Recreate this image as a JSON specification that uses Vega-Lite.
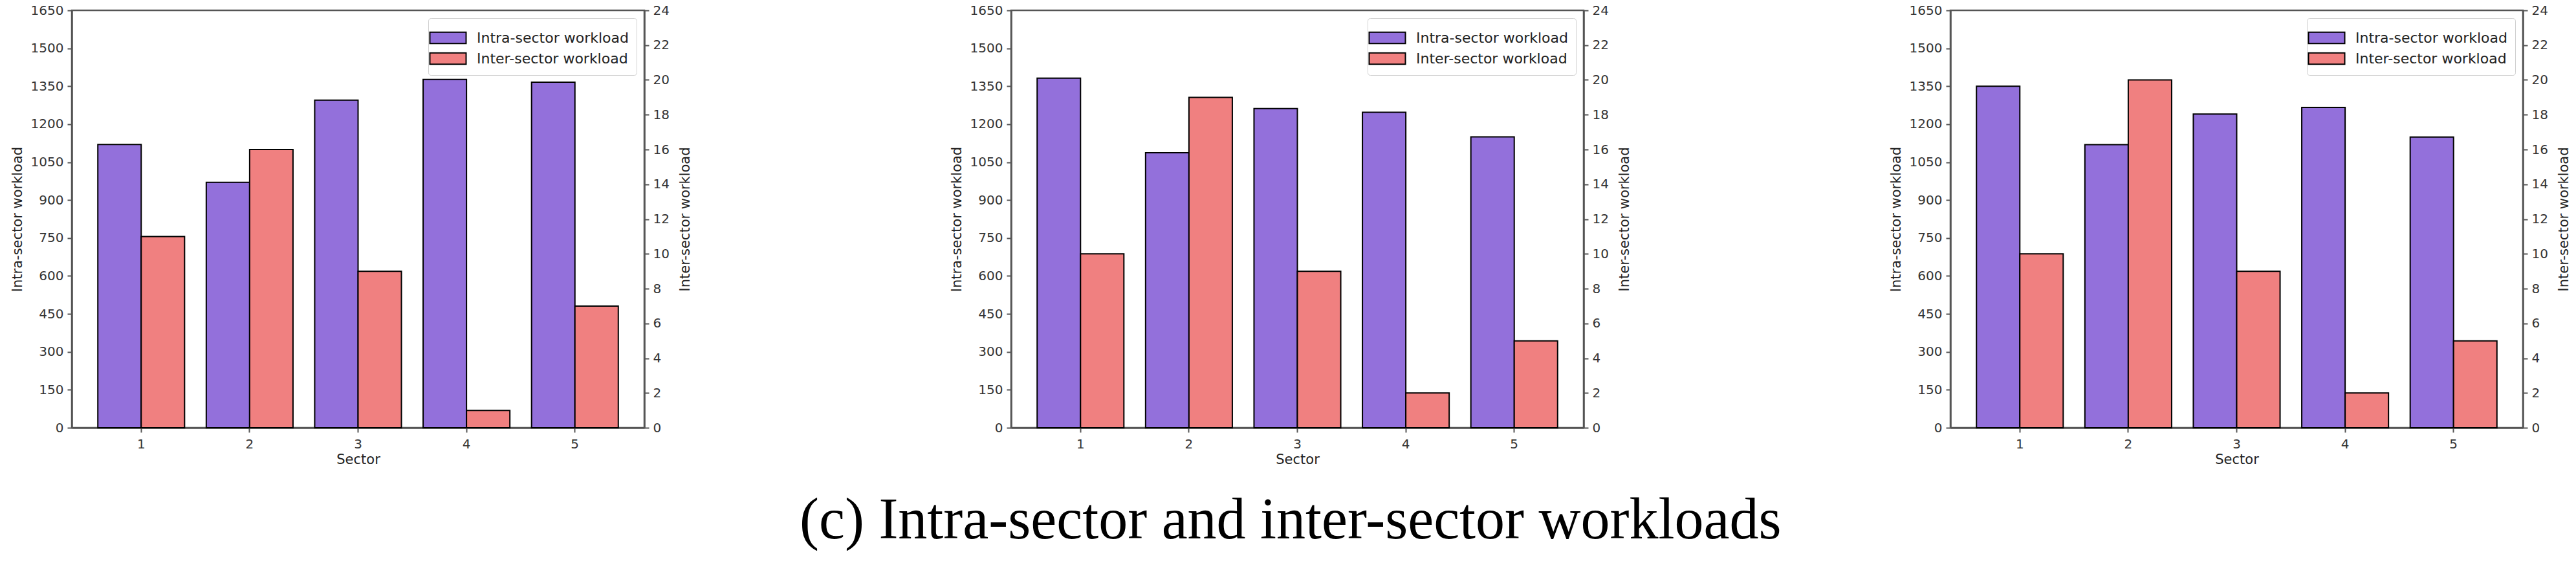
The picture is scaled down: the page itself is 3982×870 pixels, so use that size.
{
  "$schema": "https://vega.github.io/schema/vega-lite/v6.json",
  "background": "white",
  "padding": {"left": 14, "top": 4, "right": 0, "bottom": 0},
  "bounds": "flush",
  "spacing": 567,
  "config": {
    "font": "DejaVu Sans",
    "view": {"stroke": "#555", "strokeWidth": 2.5},
    "axis": {
      "labelFont": "DejaVu Sans", "labelFontSize": 20, "labelColor": "#333",
      "titleFont": "DejaVu Sans", "titleFontSize": 21, "titleFontWeight": "normal", "titleColor": "#222",
      "domainColor": "#555", "domainWidth": 2.5, "tickColor": "#555", "tickWidth": 2, "tickSize": 7,
      "labelPadding": 6, "grid": false
    },
    "legend": {
      "orient": "top-right", "offset": 12, "title": null,
      "labelFont": "DejaVu Sans", "labelFontSize": 22, "labelColor": "#222", "labelLimit": 400,
      "symbolType": "M-1.6,-0.5L1.6,-0.5L1.6,0.5L-1.6,0.5Z", "symbolSize": 1225,
      "symbolStrokeColor": "black", "symbolStrokeWidth": 2, "symbolOpacity": 1,
      "padding": 12, "rowPadding": 0, "labelOffset": 26,
      "strokeColor": "#d0d0d0", "fillColor": "rgba(255,255,255,0.85)", "cornerRadius": 4
    }
  },
  "title": {
    "text": "(c) Intra-sector and inter-sector workloads",
    "orient": "bottom", "anchor": "middle",
    "font": "Liberation Serif", "fontSize": 90, "fontWeight": "normal", "color": "black", "offset": 40
  },
  "data": {"values": [
    {"panel": 1, "sector": 1, "series": "Intra-sector workload", "value": 1120},
    {"panel": 1, "sector": 2, "series": "Intra-sector workload", "value": 970},
    {"panel": 1, "sector": 3, "series": "Intra-sector workload", "value": 1295},
    {"panel": 1, "sector": 4, "series": "Intra-sector workload", "value": 1377},
    {"panel": 1, "sector": 5, "series": "Intra-sector workload", "value": 1366},
    {"panel": 1, "sector": 1, "series": "Inter-sector workload", "value": 11},
    {"panel": 1, "sector": 2, "series": "Inter-sector workload", "value": 16},
    {"panel": 1, "sector": 3, "series": "Inter-sector workload", "value": 9},
    {"panel": 1, "sector": 4, "series": "Inter-sector workload", "value": 1},
    {"panel": 1, "sector": 5, "series": "Inter-sector workload", "value": 7},
    {"panel": 2, "sector": 1, "series": "Intra-sector workload", "value": 1382},
    {"panel": 2, "sector": 2, "series": "Intra-sector workload", "value": 1087},
    {"panel": 2, "sector": 3, "series": "Intra-sector workload", "value": 1262},
    {"panel": 2, "sector": 4, "series": "Intra-sector workload", "value": 1247},
    {"panel": 2, "sector": 5, "series": "Intra-sector workload", "value": 1150},
    {"panel": 2, "sector": 1, "series": "Inter-sector workload", "value": 10},
    {"panel": 2, "sector": 2, "series": "Inter-sector workload", "value": 19},
    {"panel": 2, "sector": 3, "series": "Inter-sector workload", "value": 9},
    {"panel": 2, "sector": 4, "series": "Inter-sector workload", "value": 2},
    {"panel": 2, "sector": 5, "series": "Inter-sector workload", "value": 5},
    {"panel": 3, "sector": 1, "series": "Intra-sector workload", "value": 1350},
    {"panel": 3, "sector": 2, "series": "Intra-sector workload", "value": 1119},
    {"panel": 3, "sector": 3, "series": "Intra-sector workload", "value": 1240},
    {"panel": 3, "sector": 4, "series": "Intra-sector workload", "value": 1266},
    {"panel": 3, "sector": 5, "series": "Intra-sector workload", "value": 1149},
    {"panel": 3, "sector": 1, "series": "Inter-sector workload", "value": 10},
    {"panel": 3, "sector": 2, "series": "Inter-sector workload", "value": 20},
    {"panel": 3, "sector": 3, "series": "Inter-sector workload", "value": 9},
    {"panel": 3, "sector": 4, "series": "Inter-sector workload", "value": 2},
    {"panel": 3, "sector": 5, "series": "Inter-sector workload", "value": 5}
  ]},
  "resolve": {"scale": {"color": "independent"}, "legend": {"color": "independent"}},
  "hconcat": [
    {
      "width": 885, "height": 645,
      "transform": [{"filter": "datum.panel == 1"}],
      "encoding": {
        "x": {"field": "sector", "type": "ordinal", "title": "Sector",
              "scale": {"paddingInner": 0.2, "paddingOuter": 0.24},
              "axis": {"labelAngle": 0, "labelPadding": 8, "titlePadding": 3}},
        "xOffset": {"field": "series", "type": "nominal",
                    "scale": {"domain": ["Intra-sector workload", "Inter-sector workload"], "paddingInner": 0, "paddingOuter": 0}},
        "color": {"field": "series", "type": "nominal",
                  "scale": {"domain": ["Intra-sector workload", "Inter-sector workload"], "range": ["#9370DB", "#F08080"]}}
      },
      "layer": [
        {
          "transform": [{"filter": "datum.series == 'Intra-sector workload'"}],
          "mark": {"type": "bar", "stroke": "black", "strokeWidth": 2},
          "encoding": {"y": {"field": "value", "type": "quantitative", "title": "Intra-sector workload",
                             "scale": {"domain": [0, 1650], "nice": false},
                             "axis": {"format": "d", "values": [0, 150, 300, 450, 600, 750, 900, 1050, 1200, 1350, 1500, 1650], "titlePadding": 10}}}
        },
        {
          "transform": [{"filter": "datum.series == 'Inter-sector workload'"}],
          "mark": {"type": "bar", "stroke": "black", "strokeWidth": 2},
          "encoding": {"y": {"field": "value", "type": "quantitative", "title": "Inter-sector workload",
                             "scale": {"domain": [0, 24], "nice": false},
                             "axis": {"orient": "right", "format": "d", "values": [0, 2, 4, 6, 8, 10, 12, 14, 16, 18, 20, 22, 24], "titleAngle": 270, "titleBaseline": "top", "titlePadding": 14}}}
        }
      ],
      "resolve": {"scale": {"y": "independent"}}
    },
    {
      "width": 885, "height": 645,
      "transform": [{"filter": "datum.panel == 2"}],
      "encoding": {
        "x": {"field": "sector", "type": "ordinal", "title": "Sector",
              "scale": {"paddingInner": 0.2, "paddingOuter": 0.24},
              "axis": {"labelAngle": 0, "labelPadding": 8, "titlePadding": 3}},
        "xOffset": {"field": "series", "type": "nominal",
                    "scale": {"domain": ["Intra-sector workload", "Inter-sector workload"], "paddingInner": 0, "paddingOuter": 0}},
        "color": {"field": "series", "type": "nominal",
                  "scale": {"domain": ["Intra-sector workload", "Inter-sector workload"], "range": ["#9370DB", "#F08080"]}}
      },
      "layer": [
        {
          "transform": [{"filter": "datum.series == 'Intra-sector workload'"}],
          "mark": {"type": "bar", "stroke": "black", "strokeWidth": 2},
          "encoding": {"y": {"field": "value", "type": "quantitative", "title": "Intra-sector workload",
                             "scale": {"domain": [0, 1650], "nice": false},
                             "axis": {"format": "d", "values": [0, 150, 300, 450, 600, 750, 900, 1050, 1200, 1350, 1500, 1650], "titlePadding": 10}}}
        },
        {
          "transform": [{"filter": "datum.series == 'Inter-sector workload'"}],
          "mark": {"type": "bar", "stroke": "black", "strokeWidth": 2},
          "encoding": {"y": {"field": "value", "type": "quantitative", "title": "Inter-sector workload",
                             "scale": {"domain": [0, 24], "nice": false},
                             "axis": {"orient": "right", "format": "d", "values": [0, 2, 4, 6, 8, 10, 12, 14, 16, 18, 20, 22, 24], "titleAngle": 270, "titleBaseline": "top", "titlePadding": 14}}}
        }
      ],
      "resolve": {"scale": {"y": "independent"}}
    },
    {
      "width": 885, "height": 645,
      "transform": [{"filter": "datum.panel == 3"}],
      "encoding": {
        "x": {"field": "sector", "type": "ordinal", "title": "Sector",
              "scale": {"paddingInner": 0.2, "paddingOuter": 0.24},
              "axis": {"labelAngle": 0, "labelPadding": 8, "titlePadding": 3}},
        "xOffset": {"field": "series", "type": "nominal",
                    "scale": {"domain": ["Intra-sector workload", "Inter-sector workload"], "paddingInner": 0, "paddingOuter": 0}},
        "color": {"field": "series", "type": "nominal",
                  "scale": {"domain": ["Intra-sector workload", "Inter-sector workload"], "range": ["#9370DB", "#F08080"]}}
      },
      "layer": [
        {
          "transform": [{"filter": "datum.series == 'Intra-sector workload'"}],
          "mark": {"type": "bar", "stroke": "black", "strokeWidth": 2},
          "encoding": {"y": {"field": "value", "type": "quantitative", "title": "Intra-sector workload",
                             "scale": {"domain": [0, 1650], "nice": false},
                             "axis": {"format": "d", "values": [0, 150, 300, 450, 600, 750, 900, 1050, 1200, 1350, 1500, 1650], "titlePadding": 10}}}
        },
        {
          "transform": [{"filter": "datum.series == 'Inter-sector workload'"}],
          "mark": {"type": "bar", "stroke": "black", "strokeWidth": 2},
          "encoding": {"y": {"field": "value", "type": "quantitative", "title": "Inter-sector workload",
                             "scale": {"domain": [0, 24], "nice": false},
                             "axis": {"orient": "right", "format": "d", "values": [0, 2, 4, 6, 8, 10, 12, 14, 16, 18, 20, 22, 24], "titleAngle": 270, "titleBaseline": "top", "titlePadding": 14}}}
        }
      ],
      "resolve": {"scale": {"y": "independent"}}
    }
  ]
}
